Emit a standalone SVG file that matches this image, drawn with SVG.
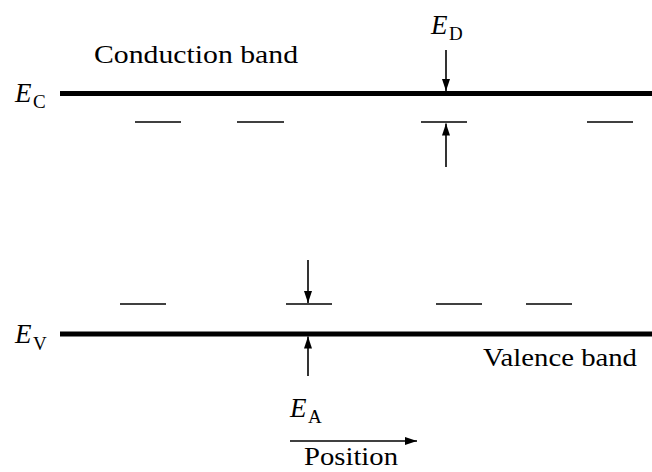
<svg xmlns="http://www.w3.org/2000/svg" width="652" height="472" viewBox="0 0 652 472">
<style>
.band{stroke:#000;stroke-width:5;fill:none}
.lvl{stroke:#000;stroke-width:1.6;fill:none}
.arr{stroke:#000;stroke-width:1.6;fill:none;marker-end:url(#ah)}
.t{font-family:'Liberation Serif','DejaVu Serif',serif;fill:#000}
.lbl{font-size:26px}
.it{font-style:italic;font-size:27px}
.sub{font-size:19px}
</style>
<defs>
<marker id="ah" viewBox="0 0 12 8" refX="12" refY="4" markerWidth="12" markerHeight="8" markerUnits="userSpaceOnUse" orient="auto">
<path d="M0,0 L12,4 L0,8 Z" fill="#000"/>
</marker>
</defs>
<g id="conduction-band">
<line class="band" x1="60" y1="93.5" x2="652" y2="93.5"/>
<text x="15" y="102" class="t it" font-family="Liberation Serif, serif">E</text><text x="33" y="108" class="t sub" font-family="Liberation Serif, serif">C</text>
<text x="94" y="63" class="t lbl" font-family="Liberation Serif, serif" textLength="204" lengthAdjust="spacingAndGlyphs">Conduction band</text>
</g>
<g id="donor-levels">
<line class="lvl" x1="135" y1="122" x2="181" y2="122"/>
<line class="lvl" x1="237" y1="122" x2="284" y2="122"/>
<line class="lvl" x1="421" y1="122" x2="467" y2="122"/>
<line class="lvl" x1="587" y1="122" x2="633" y2="122"/>
</g>
<g id="ED-label">
<text x="431" y="34" class="t it" font-family="Liberation Serif, serif">E</text><text x="449" y="40" class="t sub" font-family="Liberation Serif, serif">D</text>
</g>
<g id="valence-band">
<line class="band" x1="60" y1="334" x2="652" y2="334"/>
<text x="15" y="343" class="t it" font-family="Liberation Serif, serif">E</text><text x="33" y="350" class="t sub" font-family="Liberation Serif, serif">V</text>
<text x="483" y="366" class="t lbl" font-family="Liberation Serif, serif" textLength="154" lengthAdjust="spacingAndGlyphs">Valence band</text>
</g>
<g id="acceptor-levels">
<line class="lvl" x1="120" y1="304" x2="166" y2="304"/>
<line class="lvl" x1="286" y1="304" x2="332" y2="304"/>
<line class="lvl" x1="436" y1="304" x2="482" y2="304"/>
<line class="lvl" x1="526" y1="304" x2="572" y2="304"/>
</g>
<g id="EA-label">
<text x="290" y="417" class="t it" font-family="Liberation Serif, serif">E</text><text x="308" y="423" class="t sub" font-family="Liberation Serif, serif">A</text>
</g>
<g id="position">
<text x="304" y="465" class="t lbl" font-family="Liberation Serif, serif" textLength="94" lengthAdjust="spacingAndGlyphs">Position</text>
</g>
<g id="connectors">
<line class="arr" x1="446" y1="50" x2="446" y2="91"/>
<line class="arr" x1="446" y1="167" x2="446" y2="123.5"/>
<line class="arr" x1="308" y1="260" x2="308" y2="303"/>
<line class="arr" x1="308" y1="376" x2="308" y2="336.5"/>
<line class="arr" x1="290" y1="441" x2="417" y2="441"/>
</g>
</svg>
